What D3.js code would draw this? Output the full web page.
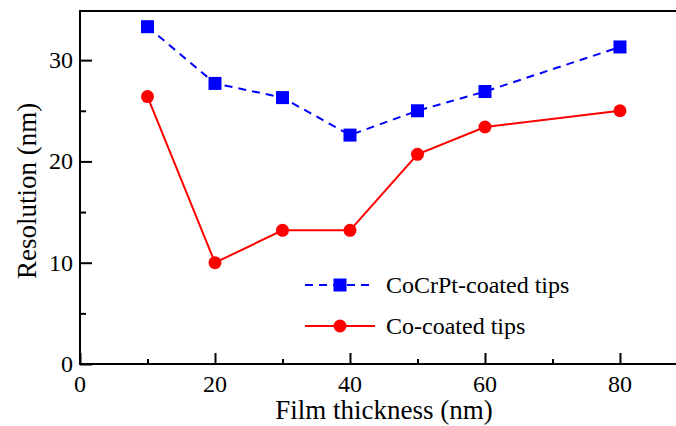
<!DOCTYPE html>
<html>
<head>
<meta charset="utf-8">
<script src="https://cdn.jsdelivr.net/npm/d3@7"></script>
</head>
<body style="margin:0">
<script>
// data
var thickness = [10, 20, 30, 40, 50, 60, 80];
var cocrpt = [33.3, 27.7, 26.3, 22.6, 25.0, 26.9, 31.3];
var co = [26.4, 10.0, 13.2, 13.2, 20.7, 23.4, 25.0];
var xTicks = [0, 20, 40, 60, 80];
var yTicks = [0, 10, 20, 30];

var W = 676, H = 426;
var margin = {top: 11, right: 0, bottom: 62, left: 80};
var width = W - margin.left - margin.right;
var height = H - margin.top - margin.bottom;

var svg = d3.select('body').append('svg')
  .attr('width', W)
  .attr('height', H);

var g = svg.append('g')
  .attr('transform', `translate(${margin.left}, ${margin.top})`);

var xScale = d3.scaleLinear().domain([0, 88.3]).range([0, width]);
var yScale = d3.scaleLinear().domain([0, 34.85]).range([height, 0]);

// serif text helper
function serif(sel, size) {
  return sel.attr('font-family', 'Liberation Serif')
    .attr('font-size', size)
    .style('font-family', 'Liberation Serif, Times New Roman, serif', 'important')
    .style('font-size', size + 'px', 'important');
}

// minor ticks
g.append('g')
  .attr('transform', `translate(0, ${height})`)
  .call(d3.axisTop(xScale).tickValues([10, 30, 50, 70]).tickSize(5).tickFormat(''))
  .call(a => a.select('.domain').remove());
g.append('g')
  .call(d3.axisRight(yScale).tickValues([5, 15, 25]).tickSize(6).tickFormat(''))
  .call(a => a.select('.domain').remove());

// major ticks (inward)
g.append('g')
  .attr('transform', `translate(0, ${height})`)
  .call(d3.axisTop(xScale).tickValues(xTicks).tickSize(11).tickFormat(''))
  .call(a => a.select('.domain').remove());
g.append('g')
  .call(d3.axisRight(yScale).tickValues(yTicks).tickSize(12).tickFormat(''))
  .call(a => a.select('.domain').remove());

g.selectAll('.tick line').attr('stroke', '#000').attr('stroke-width', 2);

// tick labels
g.selectAll('.xlab')
  .data(xTicks)
  .enter().append('text')
  .attr('x', d => xScale(d))
  .attr('y', height + 28)
  .attr('text-anchor', 'middle')
  .call(serif, 24)
  .text(d => d);

g.selectAll('.ylab')
  .data(yTicks)
  .enter().append('text')
  .attr('x', -7)
  .attr('y', d => yScale(d) + 8)
  .attr('text-anchor', 'end')
  .call(serif, 24)
  .text(d => d);

// frame: left, bottom, top
g.append('path')
  .attr('d', `M${width},0H0V${height}H${width}`)
  .attr('fill', 'none')
  .attr('stroke', '#000')
  .attr('stroke-width', 2);

// lines
var line1 = d3.line()
  .x((d, i) => xScale(thickness[i]))
  .y(d => yScale(d));

g.append('path')
  .datum(cocrpt)
  .attr('d', line1)
  .attr('fill', 'none')
  .attr('stroke', '#0000ff')
  .attr('stroke-width', 2)
  .attr('stroke-dasharray', '8,6');

g.append('path')
  .datum(co)
  .attr('d', line1)
  .attr('fill', 'none')
  .attr('stroke', '#ff0000')
  .attr('stroke-width', 2);

var sq = 13;
g.selectAll('.sq')
  .data(cocrpt)
  .enter().append('rect')
  .attr('x', (d, i) => xScale(thickness[i]) - sq / 2)
  .attr('y', d => yScale(d) - sq / 2)
  .attr('width', sq)
  .attr('height', sq)
  .attr('fill', '#0000ff');

g.selectAll('.dot')
  .data(co)
  .enter().append('circle')
  .attr('cx', (d, i) => xScale(thickness[i]))
  .attr('cy', d => yScale(d))
  .attr('r', 6.5)
  .attr('fill', '#ff0000');

// axis titles
svg.append('text')
  .attr('x', 384)
  .attr('y', 419)
  .attr('text-anchor', 'middle')
  .call(serif, 27)
  .text('Film thickness (nm)');

svg.append('text')
  .attr('transform', `translate(36, ${margin.top + yScale(17.1)}) rotate(-90)`)
  .attr('text-anchor', 'middle')
  .call(serif, 27)
  .text('Resolution (nm)');

// legend
var legend = svg.append('g');
legend.append('line')
  .attr('x1', 305).attr('x2', 375).attr('y1', 285).attr('y2', 285)
  .attr('stroke', '#0000ff').attr('stroke-width', 2).attr('stroke-dasharray', '8,6');
legend.append('rect')
  .attr('x', 340 - sq / 2).attr('y', 285 - sq / 2).attr('width', sq).attr('height', sq)
  .attr('fill', '#0000ff');
legend.append('text')
  .attr('x', 386).attr('y', 293)
  .call(serif, 24)
  .text('CoCrPt-coated tips');

legend.append('line')
  .attr('x1', 305).attr('x2', 375).attr('y1', 326).attr('y2', 326)
  .attr('stroke', '#ff0000').attr('stroke-width', 2);
legend.append('circle')
  .attr('cx', 340).attr('cy', 326).attr('r', 6.5)
  .attr('fill', '#ff0000');
legend.append('text')
  .attr('x', 386).attr('y', 334)
  .call(serif, 24)
  .text('Co-coated tips');
</script>
</body>
</html>
